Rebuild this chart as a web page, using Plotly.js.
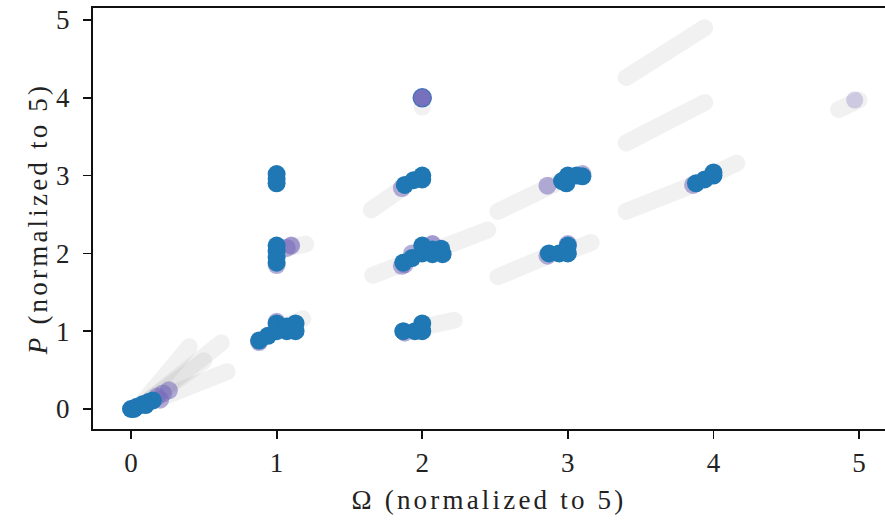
<!DOCTYPE html>
<html>
<head>
<meta charset="utf-8">
<script src="https://cdn.plot.ly/plotly-3.0.1.min.js"></script>
<style>
html,body{margin:0;padding:0;background:#fff;}
#chart{width:885px;height:530px;}
path.js-line{stroke-linecap:round;}
.xtitle,.ytitle{letter-spacing:3.2px;}
</style>
</head>
<body>
<div id="chart"></div>
<script>
// Faint grey trajectory streaks (start = faint far end, end = near the cluster)
const streakStartX = [0.40, 0.62, 0.66, 0.50, 1.20, 1.18, 1.65, 1.66, 2.45, 2.22, 2.52, 2.52, 3.16, 3.40, 3.40, 3.40, 4.16, 4.86, 2.00];
const streakStartY = [0.80, 0.85, 0.48, 0.62, 2.12, 1.16, 2.56, 1.72, 2.30, 1.14, 2.54, 1.70, 2.14, 2.54, 4.26, 3.42, 3.16, 3.85, 3.88];
const streakEndX   = [0.08, 0.10, 0.12, 0.10, 1.02, 1.08, 1.88, 1.86, 2.10, 2.02, 2.92, 2.88, 3.02, 3.86, 3.94, 3.94, 4.00, 5.00, 2.00];
const streakEndY   = [0.08, 0.08, 0.08, 0.08, 2.05, 1.08, 2.86, 1.86, 2.05, 1.06, 2.90, 1.98, 2.04, 2.88, 4.90, 3.94, 3.02, 3.97, 3.98];

// Purple near-final points
const purpleX = [0.18, 0.22, 0.26, 0.20, 1.07, 1.10, 0.88, 1.00, 1.86, 2.86, 3.10, 1.88, 3.86, 2.86, 1.88, 1.86, 1.00, 2.07, 3.00, 1.93];
const purpleY = [0.16, 0.20, 0.24, 0.12, 2.07, 2.10, 0.86, 1.12, 2.84, 2.87, 3.02, 1.86, 2.88, 1.97, 0.98, 1.84, 1.85, 2.12, 2.12, 2.00];

// Faint purple (lightly visited) points
const faintX = [4.97, 1.10, 2.07];
const faintY = [3.97, 2.10, 2.12];

// Isolated purple point
const loneX = [2.00];
const loneY = [4.00];

// Final (blue) points
const blueX = [0.00, 0.04, 0.08, 0.12, 0.15, 0.02, 0.10,
               0.88, 0.94, 1.00, 1.00, 1.07, 1.13, 1.13, 1.07,
               1.00, 1.00, 1.00, 1.00,
               1.00, 1.00, 1.00,
               1.88, 1.94, 2.00, 2.00,
               1.87, 1.93, 2.00, 2.00, 2.07, 2.13, 2.14, 2.07,
               1.87, 1.95, 2.00, 2.00,
               2.99, 3.00, 3.06, 3.10, 2.96,
               2.87, 2.94, 3.00, 3.00,
               3.88, 3.94, 4.00, 4.00];
const blueY = [0.00, 0.03, 0.06, 0.09, 0.11, 0.00, 0.05,
               0.88, 0.94, 1.00, 1.10, 1.06, 1.10, 1.00, 1.00,
               1.88, 1.95, 2.03, 2.10,
               2.90, 2.96, 3.02,
               2.88, 2.94, 3.00, 2.95,
               1.88, 1.94, 2.00, 2.10, 2.05, 2.06, 1.99, 1.99,
               1.00, 1.00, 1.00, 1.10,
               2.90, 3.00, 3.00, 2.99, 2.93,
               2.00, 2.00, 2.00, 2.10,
               2.90, 2.95, 3.00, 3.04];

const xTicks = [0, 1, 2, 3, 4, 5];
const yTicks = [0, 1, 2, 3, 4, 5];

const traces = [];
for (let i = 0; i < streakStartX.length; i++) {
  traces.push({
    x: [streakStartX[i], streakEndX[i]],
    y: [streakStartY[i], streakEndY[i]],
    mode: 'lines', type: 'scatter',
    line: {color: 'rgba(140,140,140,0.12)', width: 17},
    hoverinfo: 'skip', showlegend: false
  });
}
traces.push({
  x: faintX, y: faintY, mode: 'markers', type: 'scatter',
  marker: {size: 17, color: 'rgba(118,108,186,0.3)', line: {width: 0}},
  showlegend: false
});
traces.push({
  x: purpleX, y: purpleY, mode: 'markers', type: 'scatter',
  marker: {size: 18, color: 'rgba(118,108,186,0.55)', line: {width: 0}},
  showlegend: false
});
traces.push({
  x: loneX, y: loneY, mode: 'markers', type: 'scatter',
  marker: {size: 18, color: 'rgba(112,104,184,0.95)', line: {width: 1.5, color: '#4a72b8'}},
  showlegend: false
});
traces.push({
  x: blueX, y: blueY, mode: 'markers', type: 'scatter',
  marker: {size: 18, color: '#1f77b4', line: {width: 0}},
  showlegend: false
});

const tickFont = {family: 'Liberation Serif, serif', size: 27, color: '#222'};
const titleFont = {family: 'Liberation Serif, serif', size: 27, color: '#222'};
const layout = {
  width: 885, height: 530,
  margin: {l: 93, r: 0, t: 8, b: 101},
  paper_bgcolor: '#fff', plot_bgcolor: '#fff',
  xaxis: {
    range: [-0.261, 5.178], tickvals: xTicks, ticktext: xTicks.map(String),
    showgrid: false, zeroline: false, showline: true, mirror: true,
    linecolor: '#111', linewidth: 2, ticks: 'outside', ticklen: 8, tickwidth: 1.8, tickcolor: '#111',
    tickfont: tickFont, ticklabelstandoff: 1,
    title: {text: 'Ω (normalized to 5)', font: titleFont, standoff: 13}
  },
  yaxis: {
    range: [-0.257, 5.154], tickvals: yTicks, ticktext: yTicks.map(String),
    showgrid: false, zeroline: false, showline: true, mirror: false,
    linecolor: '#111', linewidth: 2, ticks: 'outside', ticklen: 8, tickwidth: 1.8, tickcolor: '#111',
    tickfont: tickFont, ticklabelstandoff: 8,
    title: {text: '<i>P</i> (normalized to 5)', font: titleFont, standoff: 1}
  },
  showlegend: false
};
Plotly.newPlot('chart', traces, layout, {staticPlot: true, displayModeBar: false});
</script>
</body>
</html>
